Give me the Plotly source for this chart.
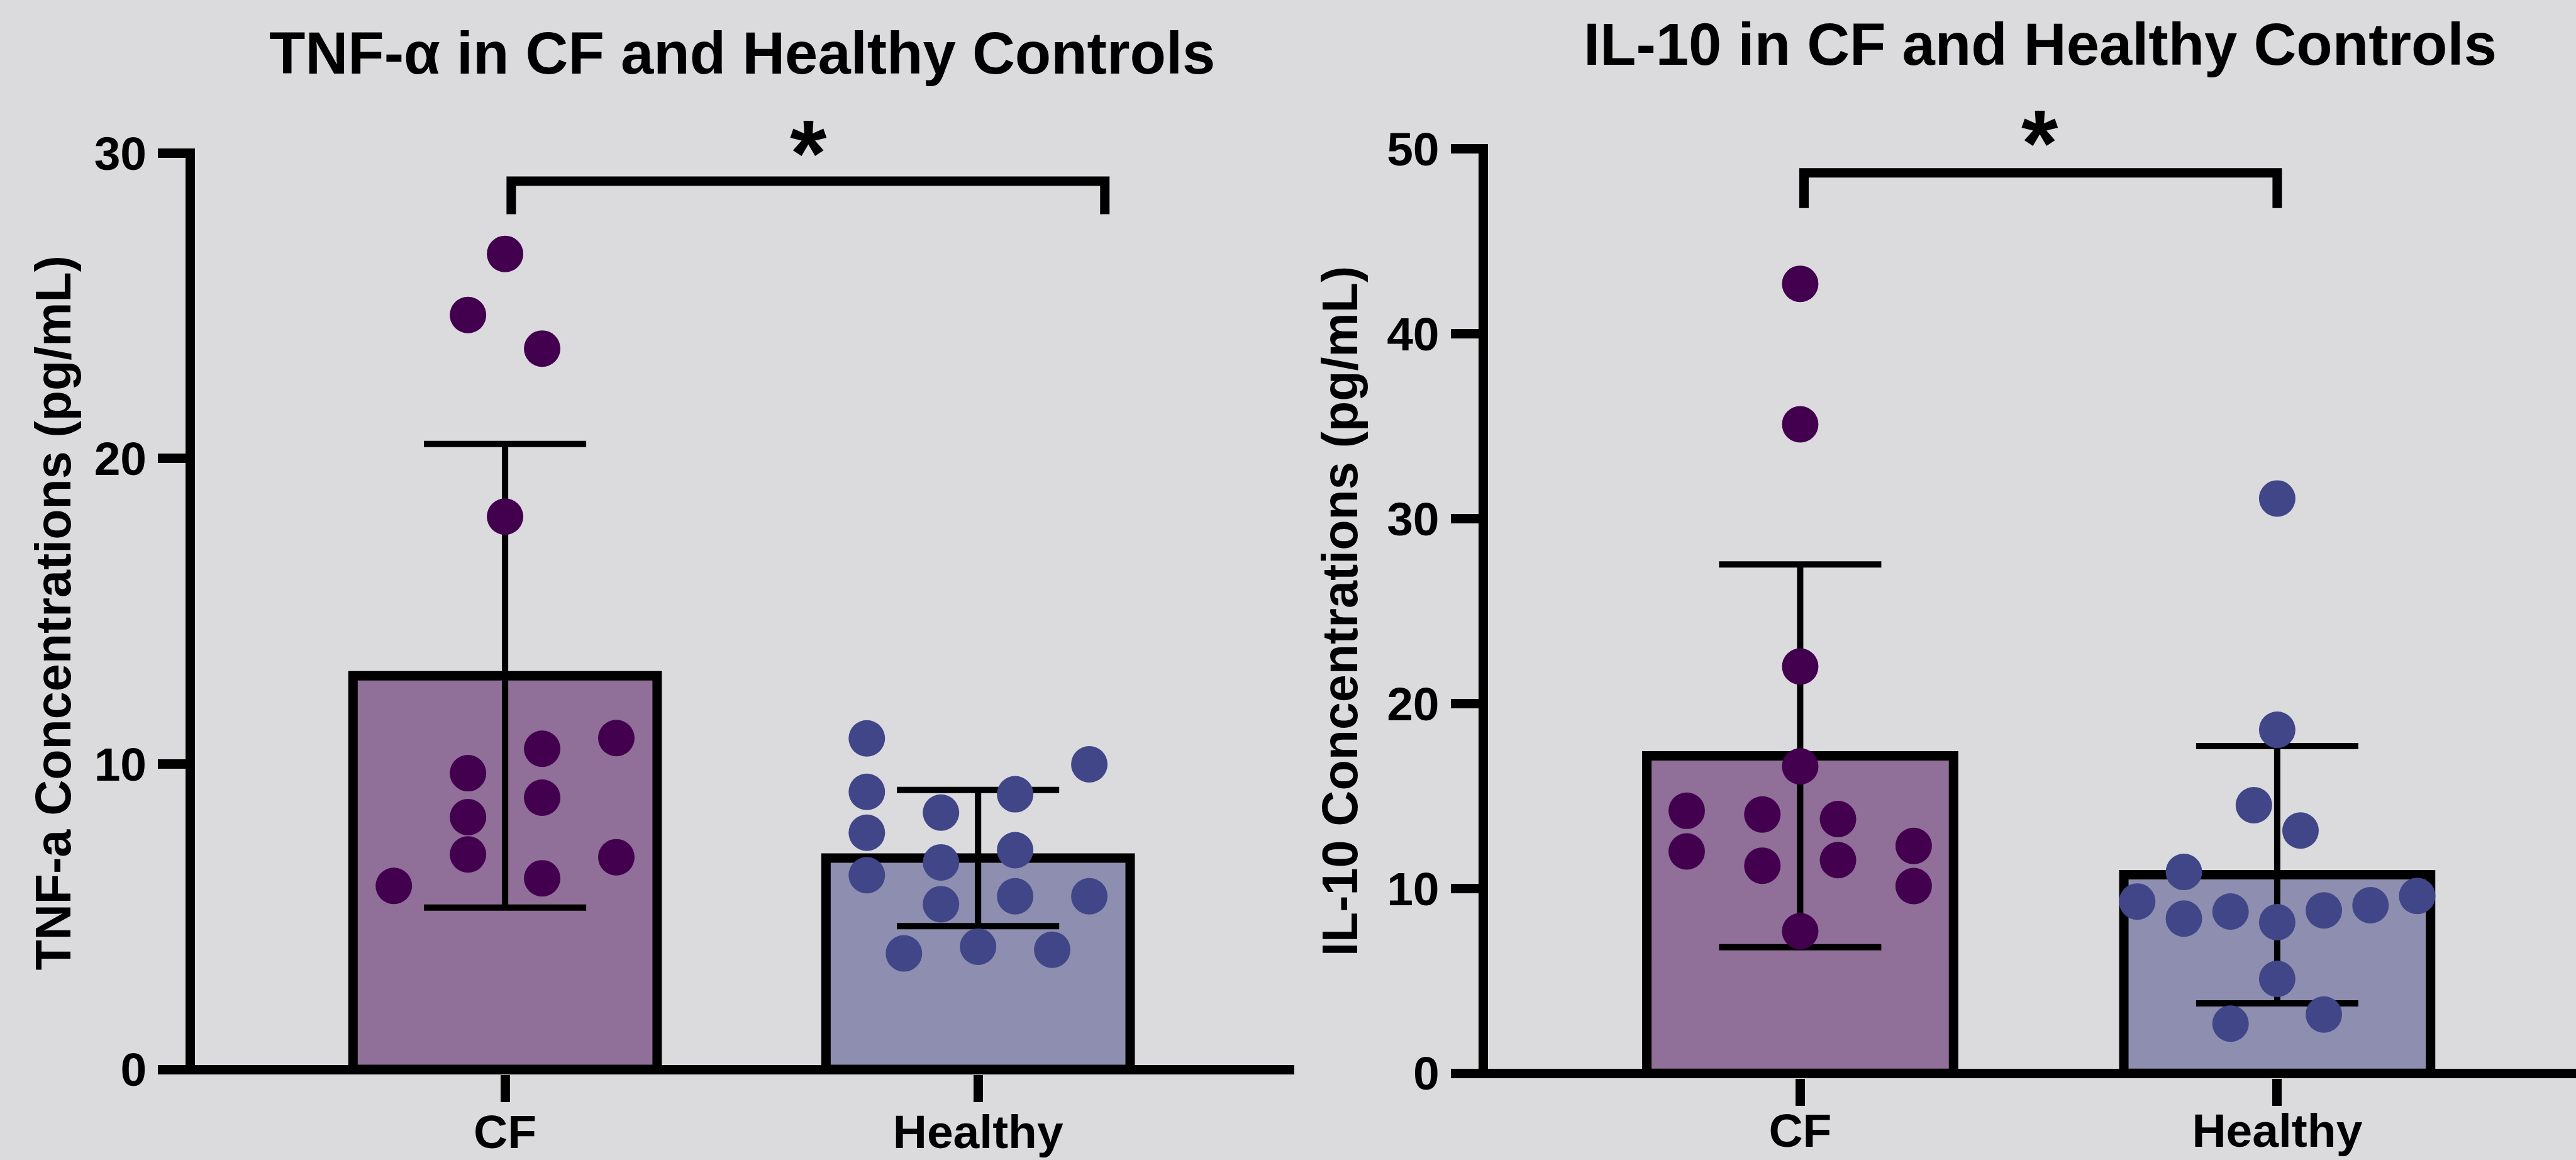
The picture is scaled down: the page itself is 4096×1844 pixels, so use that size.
import plotly.graph_objects as go

# ---------------- data ----------------
categories = ["CF", "Healthy"]

tnf_means = [12.89, 6.92]
tnf_sd = [7.59, 2.23]
tnf_cf = [26.7, 24.7, 23.6, 18.1, 10.85, 10.5, 9.7, 8.9, 8.26, 7.04, 6.95, 6.26, 6.01]
tnf_cf_slot = [0, -1, 1, 0, 3, 1, -1, 1, -1, -1, 3, 1, -3]
tnf_healthy = [10.84, 9.99, 9.09, 9.01, 8.41, 7.75, 7.18, 6.78, 6.36, 5.67, 5.67, 5.41, 4.02, 3.92, 3.80]
tnf_healthy_slot = [-3, 3, -3, 1, -1, -3, 1, -1, -3, 1, 3, -1, 0, 2, -2]

il10_means = [17.17, 10.74]
il10_sd = [10.35, 6.96]
il10_cf = [42.7, 35.1, 22.0, 16.6, 14.2, 14.0, 13.75, 12.3, 12.0, 11.53, 11.23, 10.13, 7.69]
il10_cf_slot = [0, 0, 0, 0, -3, -1, 1, 3, -3, 1, -1, 3, 0]
il10_healthy = [31.09, 18.58, 14.5, 13.13, 10.89, 9.59, 9.29, 9.09, 8.81, 8.75, 8.37, 8.17, 5.11, 3.18, 2.69]
il10_healthy_slot = [0, 0, -1, 1, -4, 6, -6, 4, 2, -2, -4, 0, 0, 2, -2]

tnf_ticks = [0, 10, 20, 30]
il10_ticks = [0, 10, 20, 30, 40, 50]

# significance brackets: [x_left, x_right], [bar level, end level], star position
tnf_bracket_x = [0.013, 1.268]
tnf_bracket_y = [29.08, 28.0]
tnf_star = [0.642, 30.49]
il10_bracket_x = [0.008, 1.0]
il10_bracket_y = [48.7, 46.8]
il10_star = [0.502, 51.1]

titles = ["TNF-α in CF and Healthy Controls", "IL-10 in CF and Healthy Controls"]
ytitles = ["TNF-a Concentrations (pg/mL)", "IL-10 Concentrations (pg/mL)"]

# ---------------- style ----------------
W, H = 4096, 1844
BG = "#dbdbdd"
CF_FILL = "#906f98"
H_FILL = "#8e8fb0"
CF_DOT = "#43004f"
H_DOT = "#414688"
FONT = "Liberation Sans, Arial, sans-serif"
LW = 15
BAR_W = 0.643
DOT = 58

Y1_RANGE = [-0.1545, 30.1545]
Y2_RANGE = [-0.2552, 50.2552]

fig = go.Figure()


def add_panel(xa, ya, means, sd, cf_vals, cf_slot, cf_w, h_vals, h_slot, h_w):
    fig.add_trace(go.Bar(
        x=[0, 1], y=means, width=BAR_W,
        marker=dict(color=[CF_FILL, H_FILL], line=dict(color="black", width=LW)),
        error_y=dict(type="data", array=sd, visible=True, color="black",
                     thickness=10, width=129),
        xaxis=xa, yaxis=ya, showlegend=False, hoverinfo="skip"))
    fig.add_trace(go.Scatter(
        x=[0 + s * cf_w for s in cf_slot], y=cf_vals, mode="markers",
        marker=dict(size=DOT, color=CF_DOT, line=dict(width=0)),
        xaxis=xa, yaxis=ya, showlegend=False, cliponaxis=False, hoverinfo="skip"))
    fig.add_trace(go.Scatter(
        x=[1 + s * h_w for s in h_slot], y=h_vals, mode="markers",
        marker=dict(size=DOT, color=H_DOT, line=dict(width=0)),
        xaxis=xa, yaxis=ya, showlegend=False, cliponaxis=False, hoverinfo="skip"))


add_panel("x", "y", tnf_means, tnf_sd, tnf_cf, tnf_cf_slot, 0.0784,
          tnf_healthy, tnf_healthy_slot, 0.0784)
add_panel("x2", "y2", il10_means, il10_sd, il10_cf, il10_cf_slot, 0.0793,
          il10_healthy, il10_healthy_slot, 0.0489)

tickfont = dict(family=FONT, size=75, color="black", weight="bold")

xcommon = dict(tickvals=[0, 1], ticktext=categories, showline=False, showgrid=False,
               zeroline=False, ticks="outside", ticklen=43, tickwidth=LW,
               tickcolor="black", tickfont=tickfont, fixedrange=True,
               automargin=False)
ycommon = dict(showline=True, linewidth=LW, linecolor="black", showgrid=False,
               zeroline=True, zerolinewidth=LW, zerolinecolor="black",
               ticks="outside", ticklen=44, tickwidth=LW, tickcolor="black",
               tickfont=tickfont, fixedrange=True, ticklabelstandoff=3,
               automargin=False)

fig.update_layout(
    width=W, height=H, autosize=False,
    margin=dict(l=0, r=0, t=0, b=0, pad=0),
    paper_bgcolor=BG, plot_bgcolor=BG,
    xaxis=dict(domain=[0.07571, 0.50232], range=[-0.6555, 1.6679], anchor="y",
               ticklabelstandoff=-17, **xcommon),
    yaxis=dict(domain=[0.07397, 0.87207], range=Y1_RANGE, anchor="x",
               tickvals=tnf_ticks, **ycommon),
    xaxis2=dict(domain=[0.57754, 1.0], range=[-0.6550, 1.6264], anchor="y2",
                ticklabelstandoff=-25, **xcommon),
    yaxis2=dict(domain=[0.07066, 0.87576], range=Y2_RANGE, anchor="x2",
                tickvals=il10_ticks, **ycommon),
)

shapes = []
for xr, yr, bx, by in [("x", "y", tnf_bracket_x, tnf_bracket_y),
                       ("x2", "y2", il10_bracket_x, il10_bracket_y)]:
    path = f"M{bx[0]},{by[1]} L{bx[0]},{by[0]} L{bx[1]},{by[0]} L{bx[1]},{by[1]}"
    shapes.append(dict(type="path", path=path, xref=xr, yref=yr,
                       line=dict(color="black", width=LW)))
fig.update_layout(shapes=shapes)

ann = []
# panel titles
for xpos, ypos, t in [(0.2882, 0.9544, titles[0]), (0.7920, 0.9620, titles[1])]:
    ann.append(dict(text=t, x=xpos, y=ypos, xref="paper", yref="paper",
                    xanchor="center", yanchor="middle", showarrow=False,
                    font=dict(family=FONT, size=94, color="black", weight="bold")))
# y-axis titles
for xpos, ypos, t in [(0.02040, 0.4718, ytitles[0]), (0.5200, 0.4734, ytitles[1])]:
    ann.append(dict(text=t, x=xpos, y=ypos, xref="paper", yref="paper",
                    xanchor="center", yanchor="middle", showarrow=False, textangle=-90,
                    font=dict(family=FONT, size=79, color="black", weight="bold")))
# significance stars (placed through the y-axis range, above the plotted area)
for xr, yr, st, rng in [("x", "y domain", tnf_star, Y1_RANGE),
                        ("x2", "y2 domain", il10_star, Y2_RANGE)]:
    yd = (st[1] - rng[0]) / (rng[1] - rng[0])
    ann.append(dict(text="*", x=st[0], y=yd, xref=xr, yref=yr,
                    xanchor="center", yanchor="middle", showarrow=False, yshift=-24,
                    font=dict(family=FONT, size=150, color="black", weight="bold")))
fig.update_layout(annotations=ann)

fig.write_html("out.html",
               config={"displayModeBar": False, "staticPlot": False},
               post_script="document.body.style.margin='0';document.body.style.background='%s';" % BG)
